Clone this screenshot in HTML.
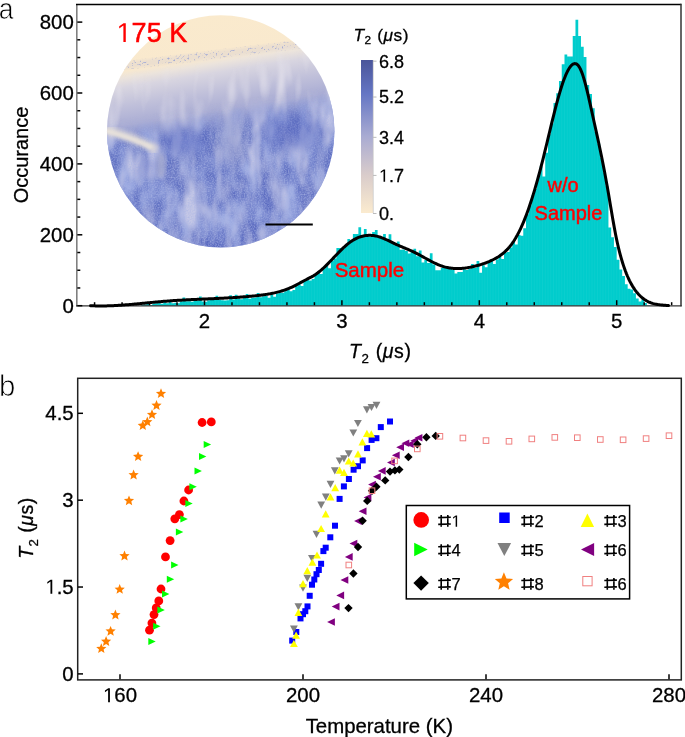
<!DOCTYPE html>
<html><head><meta charset="utf-8"><title>Figure</title>
<style>html,body{margin:0;padding:0;background:#fff;} svg{display:block;will-change:transform;} text{font-family:"Liberation Sans", sans-serif;}</style>
</head><body>
<svg width="685" height="737" viewBox="0 0 685 737" font-family='"Liberation Sans", sans-serif'>
<defs><linearGradient id="cbg" x1="0" y1="1" x2="0" y2="0">
<stop offset="0" stop-color="#FBEBCF"/><stop offset="0.25" stop-color="#D9CCCB"/>
<stop offset="0.5" stop-color="#A9ABD2"/><stop offset="0.78" stop-color="#6576C4"/>
<stop offset="1" stop-color="#4A559A"/></linearGradient><linearGradient id="ig" x1="0.422" y1="0" x2="0.578" y2="1">
<stop offset="0" stop-color="#FAEACD"/><stop offset="0.18" stop-color="#F9E9CE"/>
<stop offset="0.21" stop-color="#ECE4DC"/><stop offset="0.25" stop-color="#D8D5E0"/>
<stop offset="0.33" stop-color="#C0C0DA"/><stop offset="0.41" stop-color="#AAADD4"/>
<stop offset="0.46" stop-color="#8590CE"/><stop offset="0.5" stop-color="#6575C4"/><stop offset="1" stop-color="#5A6AC0"/></linearGradient>
<clipPath id="ic"><ellipse cx="220.7" cy="131.3" rx="113.7" ry="116.1"/></clipPath>
<linearGradient id="texm" x1="0.422" y1="0" x2="0.578" y2="1">
<stop offset="0.38" stop-color="#000"/><stop offset="0.5" stop-color="#fff"/><stop offset="1" stop-color="#fff"/></linearGradient>
<mask id="texmask" maskContentUnits="userSpaceOnUse"><rect x="100" y="10" width="240" height="245" fill="url(#texm)"/></mask>
<linearGradient id="texd" x1="0.422" y1="0" x2="0.578" y2="1">
<stop offset="0.4" stop-color="#000"/><stop offset="0.5" stop-color="#fff"/><stop offset="1" stop-color="#fff"/></linearGradient>
<mask id="texmaskd" maskContentUnits="userSpaceOnUse"><rect x="100" y="10" width="240" height="245" fill="url(#texd)"/></mask>
<linearGradient id="texm2" x1="0.422" y1="0" x2="0.578" y2="1">
<stop offset="0.2" stop-color="#000"/><stop offset="0.27" stop-color="#fff"/><stop offset="0.42" stop-color="#fff"/><stop offset="0.5" stop-color="#000"/></linearGradient>
<mask id="texmask2" maskContentUnits="userSpaceOnUse"><rect x="100" y="10" width="240" height="245" fill="url(#texm2)"/></mask>
<linearGradient id="bandg" x1="0.44" y1="0" x2="0.56" y2="1">
<stop offset="0.163" stop-color="#000"/><stop offset="0.177" stop-color="#fff"/><stop offset="0.19" stop-color="#fff"/><stop offset="0.205" stop-color="#000"/></linearGradient>
<mask id="bandmask" maskContentUnits="userSpaceOnUse"><rect x="100" y="10" width="240" height="245" fill="url(#bandg)"/></mask>
<filter id="fl" x="0" y="0" width="1" height="1" filterUnits="objectBoundingBox">
<feTurbulence type="fractalNoise" baseFrequency="0.06 0.022" numOctaves="3" seed="11"/>
<feColorMatrix type="matrix" values="0 0 0 0 0.55  0 0 0 0 0.57  0 0 0 0 0.79  2.6 0 0 0 -1.12"/>
</filter>
<filter id="fd" x="0" y="0" width="1" height="1" filterUnits="objectBoundingBox">
<feTurbulence type="fractalNoise" baseFrequency="0.05 0.03" numOctaves="3" seed="5"/>
<feColorMatrix type="matrix" values="0 0 0 0 0.34  0 0 0 0 0.41  0 0 0 0 0.76  2.4 0 0 0 -0.85"/>
</filter>
<filter id="fv" x="0" y="0" width="1" height="1" filterUnits="objectBoundingBox">
<feTurbulence type="fractalNoise" baseFrequency="0.08 0.02" numOctaves="2" seed="8"/>
<feColorMatrix type="matrix" values="0 0 0 0 0.82  0 0 0 0 0.80  0 0 0 0 0.86  1.6 0 0 0 -0.75"/>
</filter>
<filter id="fn" x="0" y="0" width="1" height="1" filterUnits="objectBoundingBox">
<feTurbulence type="fractalNoise" baseFrequency="0.7" numOctaves="1" seed="4"/>
<feColorMatrix type="matrix" values="0 0 0 0 0.4  0 0 0 0 0.46  0 0 0 0 0.78  1.6 0 0 0 -0.62"/>
</filter>
<filter id="fs" x="0" y="0" width="1" height="1" filterUnits="objectBoundingBox">
<feTurbulence type="fractalNoise" baseFrequency="0.5" numOctaves="1" seed="2"/>
<feColorMatrix type="matrix" values="0 0 0 0 0.36  0 0 0 0 0.40  0 0 0 0 0.66  6 0 0 0 -3.55"/>
</filter>
<filter id="blur2"><feGaussianBlur stdDeviation="2.2"/></filter><filter id="blur1"><feGaussianBlur stdDeviation="1.0"/></filter><filter id="blur6" x="-50%" y="-50%" width="200%" height="200%"><feGaussianBlur stdDeviation="6"/></filter></defs>
<rect width="685" height="737" fill="#fff"/>
<path d="M141.30 305.70V304.70H144.04V304.38H146.79V303.79H149.54V304.92H152.29V303.73H155.04V303.13H157.78V302.95H160.53V303.67H163.28V302.37H166.03V303.28H168.78V301.98H171.52V303.29H174.27V302.65H177.02V303.15H179.77V301.49H182.52V297.40H185.26V301.29H188.01V301.25H190.76V301.76H193.51V300.72H196.26V300.48H199.00V296.61H201.75V301.53H204.50V301.77H207.25V300.27H210.00V299.92H212.74V299.80H215.49V295.87H218.24V299.74H220.99V300.16H223.74V300.59H226.48V300.27H229.23V295.15H231.98V299.42H234.73V294.80H237.48V298.44H240.22V299.17H242.97V297.97H245.72V293.97H248.47V298.75H251.22V297.79H253.96V297.53H256.71V292.90H259.46V297.21H262.21V296.35H264.96V295.96H267.70V297.76H270.45V294.50H273.20V296.67H275.95V293.59H278.70V292.76H281.44V292.78H284.19V291.14H286.94V289.76H289.69V291.26H292.44V289.97H295.18V286.22H297.93V284.45H300.68V286.00H303.43V281.12H306.18V279.47H308.92V280.46H311.67V279.00H314.42V274.64H317.17V271.40H319.92V274.10H322.66V268.60H325.41V264.40H328.16V268.20H330.91V260.73H333.66V258.44H336.40V248.10H339.15V248.10H341.90V248.75H344.65V246.10H347.40V238.90H350.14V241.29H352.89V234.00H355.64V234.00H358.39V227.20H361.14V235.43H363.88V228.90H366.63V235.86H369.38V237.05H372.13V232.10H374.88V230.00H377.62V236.75H380.37V238.42H383.12V234.00H385.87V240.48H388.62V234.30H391.36V242.43H394.11V245.30H396.86V241.60H399.61V249.70H402.36V249.55H405.10V251.08H407.85V253.50H410.60V250.80H413.35V248.80H416.10V256.27H418.84V250.60H421.59V262.40H424.34V259.98H427.09V262.93H429.84V253.20H432.58V264.41H435.33V270.30H438.08V270.30H440.83V267.96H443.58V267.13H446.32V268.02H449.07V268.48H451.82V269.79H454.57V273.40H457.32V272.00H460.06V272.00H462.81V269.24H465.56V269.96H468.31V269.09H471.06V264.00H473.80V267.98H476.55V261.00H479.30V272.70H482.05V265.21H484.80V267.30H487.54V262.95H490.29V259.75H493.04V264.00H495.79V259.41H498.54V256.66H501.28V259.10H504.03V252.74H506.78V252.10H509.53V247.41H512.28V241.66H515.02V244.50H517.77V234.90H520.52V235.80H523.27V228.20H526.02V214.17H528.76V205.50H531.51V195.14H534.26V188.68H537.01V176.46H539.76V166.22H542.50V176.50H545.25V152.70H548.00V134.26H550.75V123.41H553.50V102.90H556.24V93.20H558.99V80.90H561.74V64.30H564.49V54.50H567.24V56.50H569.98V56.50H572.73V36.10H575.48V19.80H578.23V36.10H580.98V46.70H583.72V57.00H586.47V85.00H589.22V94.00H591.97V108.30H594.72V131.94H597.46V143.75H600.21V157.96H602.96V172.58H605.71V186.13H608.46V227.60H611.20V237.30H613.95V247.00H616.70V259.70H619.45V269.40H622.20V276.10H624.94V284.30H627.69V288.80H630.44V289.60H633.19V293.30H635.94V298.50H638.68V301.50H641.43V299.31H644.18V303.00H646.93V305.20H649.68V305.70Z" fill="#00CCCC"/><path d="M144.04 304.70V305.70M146.79 304.38V305.70M149.54 303.79V305.70M152.29 304.92V305.70M155.04 303.73V305.70M157.78 303.13V305.70M160.53 302.95V305.70M163.28 303.67V305.70M166.03 302.37V305.70M168.78 303.28V305.70M171.52 301.98V305.70M174.27 303.29V305.70M177.02 302.65V305.70M179.77 303.15V305.70M182.52 301.49V305.70M185.26 297.40V305.70M188.01 301.29V305.70M190.76 301.25V305.70M193.51 301.76V305.70M196.26 300.72V305.70M199.00 300.48V305.70M201.75 296.61V305.70M204.50 301.53V305.70M207.25 301.77V305.70M210.00 300.27V305.70M212.74 299.92V305.70M215.49 299.80V305.70M218.24 295.87V305.70M220.99 299.74V305.70M223.74 300.16V305.70M226.48 300.59V305.70M229.23 300.27V305.70M231.98 295.15V305.70M234.73 299.42V305.70M237.48 294.80V305.70M240.22 298.44V305.70M242.97 299.17V305.70M245.72 297.97V305.70M248.47 293.97V305.70M251.22 298.75V305.70M253.96 297.79V305.70M256.71 297.53V305.70M259.46 292.90V305.70M262.21 297.21V305.70M264.96 296.35V305.70M267.70 295.96V305.70M270.45 297.76V305.70M273.20 294.50V305.70M275.95 296.67V305.70M278.70 293.59V305.70M281.44 292.76V305.70M284.19 292.78V305.70M286.94 291.14V305.70M289.69 289.76V305.70M292.44 291.26V305.70M295.18 289.97V305.70M297.93 286.22V305.70M300.68 284.45V305.70M303.43 286.00V305.70M306.18 281.12V305.70M308.92 279.47V305.70M311.67 280.46V305.70M314.42 279.00V305.70M317.17 274.64V305.70M319.92 271.40V305.70M322.66 274.10V305.70M325.41 268.60V305.70M328.16 264.40V305.70M330.91 268.20V305.70M333.66 260.73V305.70M336.40 258.44V305.70M339.15 248.10V305.70M341.90 248.10V305.70M344.65 248.75V305.70M347.40 246.10V305.70M350.14 238.90V305.70M352.89 241.29V305.70M355.64 234.00V305.70M358.39 234.00V305.70M361.14 227.20V305.70M363.88 235.43V305.70M366.63 228.90V305.70M369.38 235.86V305.70M372.13 237.05V305.70M374.88 232.10V305.70M377.62 230.00V305.70M380.37 236.75V305.70M383.12 238.42V305.70M385.87 234.00V305.70M388.62 240.48V305.70M391.36 234.30V305.70M394.11 242.43V305.70M396.86 245.30V305.70M399.61 241.60V305.70M402.36 249.70V305.70M405.10 249.55V305.70M407.85 251.08V305.70M410.60 253.50V305.70M413.35 250.80V305.70M416.10 248.80V305.70M418.84 256.27V305.70M421.59 250.60V305.70M424.34 262.40V305.70M427.09 259.98V305.70M429.84 262.93V305.70M432.58 253.20V305.70M435.33 264.41V305.70M438.08 270.30V305.70M440.83 270.30V305.70M443.58 267.96V305.70M446.32 267.13V305.70M449.07 268.02V305.70M451.82 268.48V305.70M454.57 269.79V305.70M457.32 273.40V305.70M460.06 272.00V305.70M462.81 272.00V305.70M465.56 269.24V305.70M468.31 269.96V305.70M471.06 269.09V305.70M473.80 264.00V305.70M476.55 267.98V305.70M479.30 261.00V305.70M482.05 272.70V305.70M484.80 265.21V305.70M487.54 267.30V305.70M490.29 262.95V305.70M493.04 259.75V305.70M495.79 264.00V305.70M498.54 259.41V305.70M501.28 256.66V305.70M504.03 259.10V305.70M506.78 252.74V305.70M509.53 252.10V305.70M512.28 247.41V305.70M515.02 241.66V305.70M517.77 244.50V305.70M520.52 234.90V305.70M523.27 235.80V305.70M526.02 228.20V305.70M528.76 214.17V305.70M531.51 205.50V305.70M534.26 195.14V305.70M537.01 188.68V305.70M539.76 176.46V305.70M542.50 166.22V305.70M545.25 176.50V305.70M548.00 152.70V305.70M550.75 134.26V305.70M553.50 123.41V305.70M556.24 102.90V305.70M558.99 93.20V305.70M561.74 80.90V305.70M564.49 64.30V305.70M567.24 54.50V305.70M569.98 56.50V305.70M572.73 56.50V305.70M575.48 36.10V305.70M578.23 19.80V305.70M580.98 36.10V305.70M583.72 46.70V305.70M586.47 57.00V305.70M589.22 85.00V305.70M591.97 94.00V305.70M594.72 108.30V305.70M597.46 131.94V305.70M600.21 143.75V305.70M602.96 157.96V305.70M605.71 172.58V305.70M608.46 186.13V305.70M611.20 227.60V305.70M613.95 237.30V305.70M616.70 247.00V305.70M619.45 259.70V305.70M622.20 269.40V305.70M624.94 276.10V305.70M627.69 284.30V305.70M630.44 288.80V305.70M633.19 289.60V305.70M635.94 293.30V305.70M638.68 298.50V305.70M641.43 301.50V305.70M644.18 299.31V305.70M646.93 303.00V305.70M649.68 305.20V305.70" stroke="#fff" stroke-opacity="0.06" stroke-width="0.8"/>
<line x1="76.8" y1="4.5" x2="76.8" y2="306.3" stroke="#808080" stroke-width="1.6"/><line x1="76" y1="4.5" x2="681.3" y2="4.5" stroke="#000" stroke-width="1.5"/><line x1="681" y1="3.8" x2="681" y2="306.3" stroke="#333" stroke-width="1.5"/><line x1="76" y1="305.9" x2="681.7" y2="305.9" stroke="#333" stroke-width="1.4"/><line x1="77.3" y1="305.70" x2="82.3" y2="305.70" stroke="#000" stroke-width="1.5"/><line x1="77.3" y1="287.97" x2="80.3" y2="287.97" stroke="#000" stroke-width="1.5"/><line x1="77.3" y1="270.25" x2="80.3" y2="270.25" stroke="#000" stroke-width="1.5"/><line x1="77.3" y1="252.52" x2="80.3" y2="252.52" stroke="#000" stroke-width="1.5"/><line x1="77.3" y1="234.80" x2="82.3" y2="234.80" stroke="#000" stroke-width="1.5"/><line x1="77.3" y1="217.07" x2="80.3" y2="217.07" stroke="#000" stroke-width="1.5"/><line x1="77.3" y1="199.35" x2="80.3" y2="199.35" stroke="#000" stroke-width="1.5"/><line x1="77.3" y1="181.62" x2="80.3" y2="181.62" stroke="#000" stroke-width="1.5"/><line x1="77.3" y1="163.90" x2="82.3" y2="163.90" stroke="#000" stroke-width="1.5"/><line x1="77.3" y1="146.17" x2="80.3" y2="146.17" stroke="#000" stroke-width="1.5"/><line x1="77.3" y1="128.45" x2="80.3" y2="128.45" stroke="#000" stroke-width="1.5"/><line x1="77.3" y1="110.72" x2="80.3" y2="110.72" stroke="#000" stroke-width="1.5"/><line x1="77.3" y1="93.00" x2="82.3" y2="93.00" stroke="#000" stroke-width="1.5"/><line x1="77.3" y1="75.28" x2="80.3" y2="75.28" stroke="#000" stroke-width="1.5"/><line x1="77.3" y1="57.55" x2="80.3" y2="57.55" stroke="#000" stroke-width="1.5"/><line x1="77.3" y1="39.82" x2="80.3" y2="39.82" stroke="#000" stroke-width="1.5"/><line x1="77.3" y1="22.10" x2="82.3" y2="22.10" stroke="#000" stroke-width="1.5"/><line x1="94.58" y1="305.2" x2="94.58" y2="302.2" stroke="#000" stroke-width="1.5"/><line x1="122.06" y1="305.2" x2="122.06" y2="302.2" stroke="#000" stroke-width="1.5"/><line x1="149.54" y1="305.2" x2="149.54" y2="302.2" stroke="#000" stroke-width="1.5"/><line x1="177.02" y1="305.2" x2="177.02" y2="302.2" stroke="#000" stroke-width="1.5"/><line x1="204.50" y1="305.2" x2="204.50" y2="300.2" stroke="#000" stroke-width="1.5"/><line x1="231.98" y1="305.2" x2="231.98" y2="302.2" stroke="#000" stroke-width="1.5"/><line x1="259.46" y1="305.2" x2="259.46" y2="302.2" stroke="#000" stroke-width="1.5"/><line x1="286.94" y1="305.2" x2="286.94" y2="302.2" stroke="#000" stroke-width="1.5"/><line x1="314.42" y1="305.2" x2="314.42" y2="302.2" stroke="#000" stroke-width="1.5"/><line x1="341.90" y1="305.2" x2="341.90" y2="300.2" stroke="#000" stroke-width="1.5"/><line x1="369.38" y1="305.2" x2="369.38" y2="302.2" stroke="#000" stroke-width="1.5"/><line x1="396.86" y1="305.2" x2="396.86" y2="302.2" stroke="#000" stroke-width="1.5"/><line x1="424.34" y1="305.2" x2="424.34" y2="302.2" stroke="#000" stroke-width="1.5"/><line x1="451.82" y1="305.2" x2="451.82" y2="302.2" stroke="#000" stroke-width="1.5"/><line x1="479.30" y1="305.2" x2="479.30" y2="300.2" stroke="#000" stroke-width="1.5"/><line x1="506.78" y1="305.2" x2="506.78" y2="302.2" stroke="#000" stroke-width="1.5"/><line x1="534.26" y1="305.2" x2="534.26" y2="302.2" stroke="#000" stroke-width="1.5"/><line x1="561.74" y1="305.2" x2="561.74" y2="302.2" stroke="#000" stroke-width="1.5"/><line x1="589.22" y1="305.2" x2="589.22" y2="302.2" stroke="#000" stroke-width="1.5"/><line x1="616.70" y1="305.2" x2="616.70" y2="300.2" stroke="#000" stroke-width="1.5"/><line x1="644.18" y1="305.2" x2="644.18" y2="302.2" stroke="#000" stroke-width="1.5"/><line x1="671.66" y1="305.2" x2="671.66" y2="302.2" stroke="#000" stroke-width="1.5"/>
<polyline points="90.5,305.71 91.5,305.76 92.5,305.80 93.5,305.84 94.5,305.87 95.5,305.90 96.5,305.92 97.5,305.94 98.5,305.95 99.5,305.96 100.5,305.96 101.5,305.96 102.5,305.96 103.5,305.95 104.5,305.93 105.5,305.91 106.5,305.89 107.5,305.87 108.5,305.84 109.5,305.81 110.5,305.77 111.5,305.73 112.5,305.69 113.5,305.64 114.5,305.59 115.5,305.54 116.5,305.49 117.5,305.43 118.5,305.37 119.5,305.30 120.5,305.24 121.5,305.17 122.5,305.10 123.5,305.03 124.5,304.95 125.5,304.87 126.5,304.80 127.5,304.71 128.5,304.63 129.5,304.55 130.5,304.46 131.5,304.37 132.5,304.29 133.5,304.20 134.5,304.10 135.5,304.01 136.5,303.92 137.5,303.82 138.5,303.73 139.5,303.63 140.5,303.54 141.5,303.44 142.5,303.34 143.5,303.24 144.5,303.15 145.5,303.05 146.5,302.95 147.5,302.85 148.5,302.75 149.5,302.66 150.5,302.56 151.5,302.46 152.5,302.37 153.5,302.27 154.5,302.17 155.5,302.08 156.5,301.99 157.5,301.90 158.5,301.80 159.5,301.71 160.5,301.63 161.5,301.54 162.5,301.45 163.5,301.37 164.5,301.29 165.5,301.21 166.5,301.13 167.5,301.05 168.5,300.98 169.5,300.90 170.5,300.83 171.5,300.76 172.5,300.69 173.5,300.62 174.5,300.56 175.5,300.49 176.5,300.43 177.5,300.37 178.5,300.31 179.5,300.25 180.5,300.19 181.5,300.14 182.5,300.08 183.5,300.02 184.5,299.97 185.5,299.92 186.5,299.87 187.5,299.81 188.5,299.76 189.5,299.72 190.5,299.67 191.5,299.62 192.5,299.57 193.5,299.52 194.5,299.48 195.5,299.43 196.5,299.39 197.5,299.34 198.5,299.30 199.5,299.25 200.5,299.21 201.5,299.16 202.5,299.12 203.5,299.07 204.5,299.03 205.5,298.99 206.5,298.94 207.5,298.90 208.5,298.85 209.5,298.81 210.5,298.77 211.5,298.72 212.5,298.68 213.5,298.63 214.5,298.58 215.5,298.54 216.5,298.49 217.5,298.44 218.5,298.40 219.5,298.35 220.5,298.30 221.5,298.25 222.5,298.20 223.5,298.15 224.5,298.09 225.5,298.04 226.5,297.99 227.5,297.93 228.5,297.87 229.5,297.82 230.5,297.76 231.5,297.70 232.5,297.64 233.5,297.57 234.5,297.51 235.5,297.44 236.5,297.38 237.5,297.31 238.5,297.24 239.5,297.17 240.5,297.10 241.5,297.02 242.5,296.95 243.5,296.87 244.5,296.79 245.5,296.71 246.5,296.62 247.5,296.54 248.5,296.45 249.5,296.36 250.5,296.27 251.5,296.17 252.5,296.08 253.5,295.98 254.5,295.88 255.5,295.78 256.5,295.67 257.5,295.56 258.5,295.45 259.5,295.34 260.5,295.22 261.5,295.09 262.5,294.96 263.5,294.83 264.5,294.69 265.5,294.54 266.5,294.39 267.5,294.23 268.5,294.06 269.5,293.89 270.5,293.71 271.5,293.51 272.5,293.31 273.5,293.10 274.5,292.88 275.5,292.65 276.5,292.41 277.5,292.16 278.5,291.90 279.5,291.62 280.5,291.34 281.5,291.04 282.5,290.73 283.5,290.40 284.5,290.06 285.5,289.71 286.5,289.34 287.5,288.96 288.5,288.56 289.5,288.14 290.5,287.71 291.5,287.26 292.5,286.80 293.5,286.32 294.5,285.82 295.5,285.32 296.5,284.80 297.5,284.27 298.5,283.74 299.5,283.20 300.5,282.66 301.5,282.12 302.5,281.58 303.5,281.04 304.5,280.51 305.5,279.98 306.5,279.46 307.5,278.95 308.5,278.44 309.5,277.93 310.5,277.41 311.5,276.88 312.5,276.32 313.5,275.74 314.5,275.13 315.5,274.48 316.5,273.79 317.5,273.06 318.5,272.29 319.5,271.49 320.5,270.66 321.5,269.79 322.5,268.90 323.5,267.98 324.5,267.04 325.5,266.08 326.5,265.10 327.5,264.10 328.5,263.09 329.5,262.07 330.5,261.03 331.5,259.99 332.5,258.94 333.5,257.88 334.5,256.83 335.5,255.78 336.5,254.73 337.5,253.68 338.5,252.65 339.5,251.63 340.5,250.62 341.5,249.63 342.5,248.65 343.5,247.70 344.5,246.78 345.5,245.88 346.5,245.00 347.5,244.16 348.5,243.36 349.5,242.59 350.5,241.86 351.5,241.18 352.5,240.53 353.5,239.92 354.5,239.35 355.5,238.82 356.5,238.33 357.5,237.88 358.5,237.47 359.5,237.09 360.5,236.75 361.5,236.45 362.5,236.19 363.5,235.96 364.5,235.76 365.5,235.61 366.5,235.49 367.5,235.40 368.5,235.35 369.5,235.33 370.5,235.34 371.5,235.39 372.5,235.48 373.5,235.59 374.5,235.74 375.5,235.92 376.5,236.13 377.5,236.37 378.5,236.65 379.5,236.95 380.5,237.29 381.5,237.65 382.5,238.03 383.5,238.43 384.5,238.86 385.5,239.30 386.5,239.76 387.5,240.22 388.5,240.70 389.5,241.18 390.5,241.67 391.5,242.16 392.5,242.65 393.5,243.14 394.5,243.62 395.5,244.09 396.5,244.55 397.5,245.01 398.5,245.45 399.5,245.88 400.5,246.31 401.5,246.73 402.5,247.14 403.5,247.56 404.5,247.97 405.5,248.38 406.5,248.80 407.5,249.21 408.5,249.64 409.5,250.06 410.5,250.50 411.5,250.95 412.5,251.40 413.5,251.87 414.5,252.36 415.5,252.85 416.5,253.36 417.5,253.88 418.5,254.41 419.5,254.94 420.5,255.49 421.5,256.03 422.5,256.59 423.5,257.14 424.5,257.69 425.5,258.25 426.5,258.80 427.5,259.35 428.5,259.90 429.5,260.43 430.5,260.97 431.5,261.49 432.5,262.00 433.5,262.50 434.5,262.99 435.5,263.47 436.5,263.93 437.5,264.37 438.5,264.79 439.5,265.20 440.5,265.58 441.5,265.94 442.5,266.28 443.5,266.59 444.5,266.88 445.5,267.14 446.5,267.38 447.5,267.59 448.5,267.78 449.5,267.95 450.5,268.10 451.5,268.23 452.5,268.33 453.5,268.42 454.5,268.48 455.5,268.53 456.5,268.56 457.5,268.56 458.5,268.55 459.5,268.52 460.5,268.48 461.5,268.42 462.5,268.34 463.5,268.24 464.5,268.13 465.5,268.01 466.5,267.87 467.5,267.71 468.5,267.55 469.5,267.37 470.5,267.17 471.5,266.97 472.5,266.75 473.5,266.52 474.5,266.28 475.5,266.03 476.5,265.78 477.5,265.51 478.5,265.23 479.5,264.94 480.5,264.65 481.5,264.34 482.5,264.02 483.5,263.69 484.5,263.34 485.5,262.98 486.5,262.61 487.5,262.22 488.5,261.81 489.5,261.39 490.5,260.94 491.5,260.48 492.5,260.00 493.5,259.50 494.5,258.98 495.5,258.44 496.5,257.87 497.5,257.28 498.5,256.66 499.5,256.00 500.5,255.30 501.5,254.57 502.5,253.79 503.5,252.97 504.5,252.10 505.5,251.17 506.5,250.19 507.5,249.15 508.5,248.05 509.5,246.88 510.5,245.65 511.5,244.34 512.5,242.96 513.5,241.50 514.5,239.95 515.5,238.33 516.5,236.61 517.5,234.81 518.5,232.91 519.5,230.92 520.5,228.84 521.5,226.66 522.5,224.40 523.5,222.04 524.5,219.60 525.5,217.06 526.5,214.44 527.5,211.73 528.5,208.93 529.5,206.04 530.5,203.07 531.5,200.01 532.5,196.86 533.5,193.63 534.5,190.32 535.5,186.93 536.5,183.45 537.5,179.90 538.5,176.27 539.5,172.57 540.5,168.79 541.5,164.93 542.5,161.01 543.5,157.02 544.5,152.96 545.5,148.86 546.5,144.73 547.5,140.57 548.5,136.40 549.5,132.23 550.5,128.08 551.5,123.95 552.5,119.86 553.5,115.82 554.5,111.84 555.5,107.93 556.5,104.12 557.5,100.40 558.5,96.80 559.5,93.31 560.5,89.97 561.5,86.77 562.5,83.73 563.5,80.87 564.5,78.19 565.5,75.69 566.5,73.40 567.5,71.33 568.5,69.47 569.5,67.84 570.5,66.46 571.5,65.33 572.5,64.47 573.5,63.89 574.5,63.61 575.5,63.64 576.5,64.00 577.5,64.73 578.5,65.84 579.5,67.35 580.5,69.29 581.5,71.63 582.5,74.33 583.5,77.38 584.5,80.75 585.5,84.40 586.5,88.30 587.5,92.41 588.5,96.70 589.5,101.11 590.5,105.61 591.5,110.16 592.5,114.71 593.5,119.25 594.5,123.77 595.5,128.29 596.5,132.83 597.5,137.40 598.5,142.02 599.5,146.70 600.5,151.46 601.5,156.31 602.5,161.27 603.5,166.36 604.5,171.57 605.5,176.92 606.5,182.41 607.5,188.04 608.5,193.83 609.5,199.72 610.5,205.65 611.5,211.57 612.5,217.41 613.5,223.12 614.5,228.64 615.5,233.91 616.5,238.88 617.5,243.52 618.5,247.85 619.5,251.88 620.5,255.66 621.5,259.19 622.5,262.51 623.5,265.62 624.5,268.55 625.5,271.29 626.5,273.85 627.5,276.25 628.5,278.50 629.5,280.59 630.5,282.55 631.5,284.37 632.5,286.08 633.5,287.66 634.5,289.15 635.5,290.54 636.5,291.84 637.5,293.06 638.5,294.19 639.5,295.25 640.5,296.24 641.5,297.16 642.5,298.00 643.5,298.78 644.5,299.50 645.5,300.16 646.5,300.76 647.5,301.31 648.5,301.81 649.5,302.26 650.5,302.66 651.5,303.02 652.5,303.34 653.5,303.63 654.5,303.88 655.5,304.11 656.5,304.30 657.5,304.47 658.5,304.62 659.5,304.75 660.5,304.87 661.5,304.97 662.5,305.06 663.5,305.14 664.5,305.22 665.5,305.30 666.5,305.38 667.5,305.47 668.5,305.56" fill="none" stroke="#000" stroke-width="3" stroke-linejoin="round" stroke-linecap="round"/>
<ellipse cx="220.7" cy="131.3" rx="113.7" ry="116.1" fill="url(#ig)"/><g clip-path="url(#ic)"><rect x="100" y="10" width="240" height="245" filter="url(#fd)" mask="url(#texmaskd)"/><rect x="100" y="10" width="240" height="245" filter="url(#fl)" mask="url(#texmask)"/><rect x="100" y="10" width="240" height="245" filter="url(#fv)" mask="url(#texmask2)"/><rect x="100" y="10" width="240" height="245" filter="url(#fn)" mask="url(#texmask)"/><rect x="100" y="10" width="240" height="245" fill="#B9B8D6" opacity="0.2" mask="url(#bandmask)"/><rect x="100" y="10" width="240" height="245" filter="url(#fs)" mask="url(#bandmask)"/><ellipse cx="230" cy="140" rx="13" ry="26" fill="#A6AAD2" opacity="0.55" filter="url(#blur6)"/><ellipse cx="183" cy="142" rx="26" ry="13" fill="#5565BF" opacity="0.45" filter="url(#blur6)"/><ellipse cx="292" cy="132" rx="32" ry="18" fill="#5868C0" opacity="0.4" filter="url(#blur6)"/><ellipse cx="161" cy="165" rx="5" ry="13" fill="#A9ADD2" opacity="0.8" filter="url(#blur2)"/><ellipse cx="146" cy="166" rx="10" ry="9" fill="#5262BD" opacity="0.35" filter="url(#blur6)"/><path d="M103 129.5 Q132 136 157 150" stroke="#E2DCD8" stroke-width="9" fill="none" filter="url(#blur2)" opacity="0.8"/><path d="M103 130 Q130 137 152 147.5" stroke="#E8E2DA" stroke-width="4.5" fill="none" filter="url(#blur1)" opacity="0.85"/></g>
<line x1="265.5" y1="224.6" x2="312.8" y2="224.6" stroke="#000" stroke-width="2"/>
<rect x="361" y="60" width="12" height="153" fill="url(#cbg)"/><line x1="373.3" y1="60" x2="373.3" y2="213.5" stroke="#ccc" stroke-width="0.8"/><line x1="373" y1="213.50" x2="376.5" y2="213.50" stroke="#bbb" stroke-width="1"/><g stroke="#000" stroke-width="0.28"><text x="379.00" y="219.90" font-size="18" fill="#000">0.</text></g><line x1="373" y1="175.42" x2="376.5" y2="175.42" stroke="#bbb" stroke-width="1"/><g stroke="#000" stroke-width="0.28"><text x="379.00" y="181.82" font-size="18" fill="#000"> .7</text><path transform="translate(379.00,181.82) scale(0.00879,-0.00879)" d="M515 0L515 1237L197 1010L197 1180L530 1409L696 1409L696 0Z" fill="#000"/></g><line x1="373" y1="137.34" x2="376.5" y2="137.34" stroke="#bbb" stroke-width="1"/><g stroke="#000" stroke-width="0.28"><text x="379.00" y="143.74" font-size="18" fill="#000">3.4</text></g><line x1="373" y1="97.02" x2="376.5" y2="97.02" stroke="#bbb" stroke-width="1"/><g stroke="#000" stroke-width="0.28"><text x="379.00" y="103.42" font-size="18" fill="#000">5.2</text></g><line x1="373" y1="61.18" x2="376.5" y2="61.18" stroke="#bbb" stroke-width="1"/><g stroke="#000" stroke-width="0.28"><text x="379.00" y="67.58" font-size="18" fill="#000">6.8</text></g>
<g stroke="#000" stroke-width="0.3"><text transform="translate(-1.3,18.5) scale(0.9,1)" font-size="29.5" fill="#000" stroke="#fff" stroke-width="0.75">a</text><text x="73.8" y="313.00" font-size="20.4" text-anchor="end">0</text><text x="73.8" y="242.10" font-size="20.4" text-anchor="end">200</text><text x="73.8" y="171.20" font-size="20.4" text-anchor="end">400</text><text x="73.8" y="100.30" font-size="20.4" text-anchor="end">600</text><text x="73.8" y="29.40" font-size="20.4" text-anchor="end">800</text><text x="204.50" y="328.2" font-size="20.4" text-anchor="middle">2</text><text x="341.90" y="328.2" font-size="20.4" text-anchor="middle">3</text><text x="479.30" y="328.2" font-size="20.4" text-anchor="middle">4</text><text x="616.70" y="328.2" font-size="20.4" text-anchor="middle">5</text><text transform="translate(28.3,155) rotate(-90)" font-size="20" text-anchor="middle">Occurance</text><text x="380" y="358.2" font-size="19.5" text-anchor="middle" textLength="62" lengthAdjust="spacing"><tspan font-style="italic">T</tspan><tspan font-size="13.3" dy="4.3">2</tspan><tspan dy="-4.3"> (</tspan><tspan font-style="italic">μ</tspan><tspan>s)</tspan></text><text x="381" y="40.6" font-size="17.3" text-anchor="middle" textLength="55.2" lengthAdjust="spacing"><tspan font-style="italic">T</tspan><tspan font-size="11.8" dy="3.8">2</tspan><tspan dy="-3.8"> (</tspan><tspan font-style="italic">μ</tspan><tspan>s)</tspan></text><g stroke="#FF0000" stroke-width="0.5"><text x="116.60" y="41.90" font-size="27" fill="#FF0000"> 75 K</text><path transform="translate(116.60,41.90) scale(0.01318,-0.01318)" d="M515 0L515 1237L197 1010L197 1180L530 1409L696 1409L696 0Z" fill="#FF0000"/></g><text x="563" y="191.6" font-size="20" fill="#FF0000" stroke="#FF0000" stroke-width="0.45" text-anchor="middle">w/o</text><text x="568.5" y="219.9" font-size="20" fill="#FF0000" stroke="#FF0000" stroke-width="0.45" text-anchor="middle">Sample</text><text x="369.4" y="277.4" font-size="20.5" fill="#FF0000" stroke="#FF0000" stroke-width="0.45" text-anchor="middle">Sample</text></g>
<rect x="77.7" y="378.3" width="603.6" height="301.6" fill="none" stroke="#222" stroke-width="1.5"/><line x1="78" y1="673.90" x2="83" y2="673.90" stroke="#000" stroke-width="1.5"/><line x1="78" y1="587.03" x2="83" y2="587.03" stroke="#000" stroke-width="1.5"/><line x1="78" y1="500.17" x2="83" y2="500.17" stroke="#000" stroke-width="1.5"/><line x1="78" y1="413.31" x2="83" y2="413.31" stroke="#000" stroke-width="1.5"/><line x1="120.00" y1="679.3" x2="120.00" y2="674.2" stroke="#000" stroke-width="1.5"/><line x1="303.00" y1="679.3" x2="303.00" y2="674.2" stroke="#000" stroke-width="1.5"/><line x1="486.00" y1="679.3" x2="486.00" y2="674.2" stroke="#000" stroke-width="1.5"/><line x1="669.00" y1="679.3" x2="669.00" y2="674.2" stroke="#000" stroke-width="1.5"/>
<polygon points="161.0,388.3 162.4,391.7 166.1,392.0 163.3,394.5 164.2,398.1 161.0,396.1 157.8,398.1 158.7,394.5 155.9,392.0 159.6,391.7" fill="#FF8000"/><polygon points="156.5,400.1 157.9,403.5 161.6,403.8 158.8,406.3 159.7,409.9 156.5,407.9 153.3,409.9 154.2,406.3 151.4,403.8 155.1,403.5" fill="#FF8000"/><polygon points="152.0,409.3 153.4,412.7 157.1,413.0 154.3,415.5 155.2,419.1 152.0,417.1 148.8,419.1 149.7,415.5 146.9,413.0 150.6,412.7" fill="#FF8000"/><polygon points="147.3,416.5 148.7,419.9 152.4,420.2 149.6,422.7 150.5,426.3 147.3,424.3 144.1,426.3 145.0,422.7 142.2,420.2 145.9,419.9" fill="#FF8000"/><polygon points="142.8,420.2 144.2,423.6 147.9,423.9 145.1,426.4 146.0,430.0 142.8,428.0 139.6,430.0 140.5,426.4 137.7,423.9 141.4,423.6" fill="#FF8000"/><polygon points="138.1,451.2 139.5,454.6 143.2,454.9 140.4,457.4 141.3,461.0 138.1,459.0 134.9,461.0 135.8,457.4 133.0,454.9 136.7,454.6" fill="#FF8000"/><polygon points="133.6,469.6 135.0,473.0 138.7,473.3 135.9,475.8 136.8,479.4 133.6,477.4 130.4,479.4 131.3,475.8 128.5,473.3 132.2,473.0" fill="#FF8000"/><polygon points="129.0,495.4 130.4,498.8 134.1,499.1 131.3,501.6 132.2,505.2 129.0,503.2 125.8,505.2 126.7,501.6 123.9,499.1 127.6,498.8" fill="#FF8000"/><polygon points="124.5,550.6 125.9,554.0 129.6,554.3 126.8,556.8 127.7,560.4 124.5,558.4 121.3,560.4 122.2,556.8 119.4,554.3 123.1,554.0" fill="#FF8000"/><polygon points="119.7,584.0 121.1,587.4 124.8,587.7 122.0,590.2 122.9,593.8 119.7,591.8 116.5,593.8 117.4,590.2 114.6,587.7 118.3,587.4" fill="#FF8000"/><polygon points="115.4,609.6 116.8,613.0 120.5,613.3 117.7,615.8 118.6,619.4 115.4,617.4 112.2,619.4 113.1,615.8 110.3,613.3 114.0,613.0" fill="#FF8000"/><polygon points="110.6,625.9 112.0,629.3 115.7,629.6 112.9,632.1 113.8,635.7 110.6,633.7 107.4,635.7 108.3,632.1 105.5,629.6 109.2,629.3" fill="#FF8000"/><polygon points="106.1,636.1 107.5,639.5 111.2,639.8 108.4,642.3 109.3,645.9 106.1,643.9 102.9,645.9 103.8,642.3 101.0,639.8 104.7,639.5" fill="#FF8000"/><polygon points="101.3,643.3 102.7,646.7 106.4,647.0 103.6,649.5 104.5,653.1 101.3,651.1 98.1,653.1 99.0,649.5 96.2,647.0 99.9,646.7" fill="#FF8000"/><circle cx="202.1" cy="422.5" r="4.4" fill="#FF0000"/><circle cx="211.3" cy="421.9" r="4.4" fill="#FF0000"/><circle cx="188.6" cy="490.0" r="4.4" fill="#FF0000"/><circle cx="183.9" cy="501.0" r="4.4" fill="#FF0000"/><circle cx="179.4" cy="514.6" r="4.4" fill="#FF0000"/><circle cx="174.8" cy="518.8" r="4.4" fill="#FF0000"/><circle cx="170.1" cy="540.6" r="4.4" fill="#FF0000"/><circle cx="165.5" cy="556.9" r="4.4" fill="#FF0000"/><circle cx="161.0" cy="589.0" r="4.4" fill="#FF0000"/><circle cx="158.8" cy="600.9" r="4.4" fill="#FF0000"/><circle cx="156.2" cy="607.9" r="4.4" fill="#FF0000"/><circle cx="154.0" cy="614.6" r="4.4" fill="#FF0000"/><circle cx="151.9" cy="623.1" r="4.4" fill="#FF0000"/><circle cx="149.5" cy="630.2" r="4.4" fill="#FF0000"/><polygon points="211.1,444.4 203.7,440.9 203.7,447.9" fill="#00FF00"/><polygon points="206.4,456.6 199.0,453.1 199.0,460.1" fill="#00FF00"/><polygon points="201.9,470.9 194.5,467.4 194.5,474.4" fill="#00FF00"/><polygon points="196.8,486.7 189.4,483.2 189.4,490.2" fill="#00FF00"/><polygon points="192.7,503.5 185.3,500.0 185.3,507.0" fill="#00FF00"/><polygon points="187.8,519.1 180.4,515.6 180.4,522.6" fill="#00FF00"/><polygon points="183.3,532.1 175.9,528.6 175.9,535.6" fill="#00FF00"/><polygon points="178.5,565.1 171.1,561.6 171.1,568.6" fill="#00FF00"/><polygon points="174.2,579.2 166.8,575.7 166.8,582.7" fill="#00FF00"/><polygon points="169.4,594.0 162.0,590.5 162.0,597.5" fill="#00FF00"/><polygon points="164.8,610.0 157.4,606.5 157.4,613.5" fill="#00FF00"/><polygon points="160.5,626.3 153.1,622.8 153.1,629.8" fill="#00FF00"/><polygon points="155.7,641.5 148.3,638.0 148.3,645.0" fill="#00FF00"/><rect x="387.0" y="418.5" width="6" height="6" fill="#0000FF"/><rect x="377.8" y="424.1" width="6" height="6" fill="#0000FF"/><rect x="373.4" y="435.2" width="6" height="6" fill="#0000FF"/><rect x="368.6" y="436.9" width="6" height="6" fill="#0000FF"/><rect x="364.1" y="445.1" width="6" height="6" fill="#0000FF"/><rect x="359.7" y="457.4" width="6" height="6" fill="#0000FF"/><rect x="355.0" y="463.2" width="6" height="6" fill="#0000FF"/><rect x="350.6" y="466.7" width="6" height="6" fill="#0000FF"/><rect x="345.9" y="476.0" width="6" height="6" fill="#0000FF"/><rect x="340.9" y="483.4" width="6" height="6" fill="#0000FF"/><rect x="336.6" y="495.9" width="6" height="6" fill="#0000FF"/><rect x="332.0" y="522.7" width="6" height="6" fill="#0000FF"/><rect x="327.3" y="534.3" width="6" height="6" fill="#0000FF"/><rect x="322.7" y="544.7" width="6" height="6" fill="#0000FF"/><rect x="320.4" y="548.1" width="6" height="6" fill="#0000FF"/><rect x="318.1" y="560.8" width="6" height="6" fill="#0000FF"/><rect x="315.8" y="567.0" width="6" height="6" fill="#0000FF"/><rect x="313.5" y="571.2" width="6" height="6" fill="#0000FF"/><rect x="311.3" y="576.5" width="6" height="6" fill="#0000FF"/><rect x="309.0" y="581.7" width="6" height="6" fill="#0000FF"/><rect x="306.7" y="592.8" width="6" height="6" fill="#0000FF"/><rect x="304.5" y="603.4" width="6" height="6" fill="#0000FF"/><rect x="302.3" y="608.2" width="6" height="6" fill="#0000FF"/><rect x="300.0" y="611.2" width="6" height="6" fill="#0000FF"/><rect x="297.5" y="615.4" width="6" height="6" fill="#0000FF"/><rect x="293.3" y="629.0" width="6" height="6" fill="#0000FF"/><rect x="289.2" y="637.6" width="6" height="6" fill="#0000FF"/><polygon points="376.5,408.9 380.4,401.7 372.6,401.7" fill="#808080"/><polygon points="371.5,411.1 375.4,403.9 367.6,403.9" fill="#808080"/><polygon points="366.9,413.5 370.8,406.3 363.0,406.3" fill="#808080"/><polygon points="357.9,427.1 361.8,419.9 354.0,419.9" fill="#808080"/><polygon points="353.3,436.6 357.2,429.4 349.4,429.4" fill="#808080"/><polygon points="348.7,457.5 352.6,450.3 344.8,450.3" fill="#808080"/><polygon points="344.0,462.5 347.9,455.3 340.1,455.3" fill="#808080"/><polygon points="339.6,464.6 343.5,457.4 335.7,457.4" fill="#808080"/><polygon points="334.8,474.5 338.7,467.3 330.9,467.3" fill="#808080"/><polygon points="330.5,487.9 334.4,480.7 326.6,480.7" fill="#808080"/><polygon points="325.8,500.8 329.7,493.6 321.9,493.6" fill="#808080"/><polygon points="321.2,508.8 325.1,501.6 317.3,501.6" fill="#808080"/><polygon points="316.5,537.9 320.4,530.7 312.6,530.7" fill="#808080"/><polygon points="311.9,562.1 315.8,554.9 308.0,554.9" fill="#808080"/><polygon points="307.3,581.9 311.2,574.7 303.4,574.7" fill="#808080"/><polygon points="303.0,591.7 306.9,584.5 299.1,584.5" fill="#808080"/><polygon points="298.4,610.4 302.3,603.2 294.5,603.2" fill="#808080"/><polygon points="293.9,632.7 297.8,625.5 290.0,625.5" fill="#808080"/><polygon points="371.3,430.2 375.2,437.4 367.4,437.4" fill="#FFFF00"/><polygon points="366.9,429.8 370.8,437.0 363.0,437.0" fill="#FFFF00"/><polygon points="362.4,438.2 366.3,445.4 358.5,445.4" fill="#FFFF00"/><polygon points="358.0,450.3 361.9,457.5 354.1,457.5" fill="#FFFF00"/><polygon points="353.2,459.4 357.1,466.6 349.3,466.6" fill="#FFFF00"/><polygon points="348.7,457.4 352.6,464.6 344.8,464.6" fill="#FFFF00"/><polygon points="344.0,468.7 347.9,475.9 340.1,475.9" fill="#FFFF00"/><polygon points="339.6,466.6 343.5,473.8 335.7,473.8" fill="#FFFF00"/><polygon points="335.2,484.0 339.1,491.2 331.3,491.2" fill="#FFFF00"/><polygon points="330.5,493.3 334.4,500.5 326.6,500.5" fill="#FFFF00"/><polygon points="325.7,510.2 329.6,517.4 321.8,517.4" fill="#FFFF00"/><polygon points="321.1,524.9 325.0,532.1 317.2,532.1" fill="#FFFF00"/><polygon points="317.0,551.4 320.9,558.6 313.1,558.6" fill="#FFFF00"/><polygon points="312.4,558.6 316.3,565.8 308.5,565.8" fill="#FFFF00"/><polygon points="307.3,567.1 311.2,574.3 303.4,574.3" fill="#FFFF00"/><polygon points="303.0,580.1 306.9,587.3 299.1,587.3" fill="#FFFF00"/><polygon points="298.4,608.8 302.3,616.0 294.5,616.0" fill="#FFFF00"/><polygon points="296.1,631.5 300.0,638.7 292.2,638.7" fill="#FFFF00"/><polygon points="293.9,639.9 297.8,647.1 290.0,647.1" fill="#FFFF00"/><polygon points="414.6,437.7 422.4,433.9 422.4,441.5" fill="#800080"/><polygon points="410.3,440.7 418.1,436.9 418.1,444.5" fill="#800080"/><polygon points="405.9,444.2 413.7,440.4 413.7,448.0" fill="#800080"/><polygon points="401.5,443.3 409.3,439.5 409.3,447.1" fill="#800080"/><polygon points="396.2,447.3 404.0,443.5 404.0,451.1" fill="#800080"/><polygon points="391.9,455.2 399.7,451.4 399.7,459.0" fill="#800080"/><polygon points="387.0,462.5 394.8,458.7 394.8,466.3" fill="#800080"/><polygon points="377.9,470.9 385.7,467.1 385.7,474.7" fill="#800080"/><polygon points="373.0,476.7 380.8,472.9 380.8,480.5" fill="#800080"/><polygon points="368.1,484.6 375.9,480.8 375.9,488.4" fill="#800080"/><polygon points="363.6,497.5 371.4,493.7 371.4,501.3" fill="#800080"/><polygon points="358.7,511.2 366.5,507.4 366.5,515.0" fill="#800080"/><polygon points="354.1,521.1 361.9,517.3 361.9,524.9" fill="#800080"/><polygon points="349.5,543.5 357.3,539.7 357.3,547.3" fill="#800080"/><polygon points="344.9,556.9 352.7,553.1 352.7,560.7" fill="#800080"/><polygon points="340.5,580.0 348.3,576.2 348.3,583.8" fill="#800080"/><polygon points="336.3,595.4 344.1,591.6 344.1,599.2" fill="#800080"/><polygon points="331.7,606.6 339.5,602.8 339.5,610.4" fill="#800080"/><polygon points="327.1,622.0 334.9,618.2 334.9,625.8" fill="#800080"/><polygon points="435.7,431.7 439.9,435.9 435.7,440.1 431.5,435.9" fill="#000000"/><polygon points="426.4,433.0 430.6,437.2 426.4,441.4 422.2,437.2" fill="#000000"/><polygon points="417.3,440.0 421.5,444.2 417.3,448.4 413.1,444.2" fill="#000000"/><polygon points="408.4,452.8 412.6,457.0 408.4,461.2 404.2,457.0" fill="#000000"/><polygon points="399.3,465.4 403.5,469.6 399.3,473.8 395.1,469.6" fill="#000000"/><polygon points="394.9,466.2 399.1,470.4 394.9,474.6 390.7,470.4" fill="#000000"/><polygon points="390.0,467.4 394.2,471.6 390.0,475.8 385.8,471.6" fill="#000000"/><polygon points="385.2,476.2 389.4,480.4 385.2,484.6 381.0,480.4" fill="#000000"/><polygon points="376.4,482.5 380.6,486.7 376.4,490.9 372.2,486.7" fill="#000000"/><polygon points="372.0,486.5 376.2,490.7 372.0,494.9 367.8,490.7" fill="#000000"/><polygon points="367.2,496.7 371.4,500.9 367.2,505.1 363.0,500.9" fill="#000000"/><polygon points="362.6,516.5 366.8,520.7 362.6,524.9 358.4,520.7" fill="#000000"/><polygon points="358.0,542.8 362.2,547.0 358.0,551.2 353.8,547.0" fill="#000000"/><polygon points="353.4,569.3 357.6,573.5 353.4,577.7 349.2,573.5" fill="#000000"/><polygon points="348.5,603.9 352.7,608.1 348.5,612.3 344.3,608.1" fill="#000000"/><rect x="666.2" y="432.9" width="5.6" height="5.6" fill="none" stroke="#F08080" stroke-width="1"/><rect x="643.3" y="435.8" width="5.6" height="5.6" fill="none" stroke="#F08080" stroke-width="1"/><rect x="620.3" y="437.0" width="5.6" height="5.6" fill="none" stroke="#F08080" stroke-width="1"/><rect x="597.5" y="436.7" width="5.6" height="5.6" fill="none" stroke="#F08080" stroke-width="1"/><rect x="574.5" y="434.9" width="5.6" height="5.6" fill="none" stroke="#F08080" stroke-width="1"/><rect x="552.0" y="434.6" width="5.6" height="5.6" fill="none" stroke="#F08080" stroke-width="1"/><rect x="529.0" y="436.1" width="5.6" height="5.6" fill="none" stroke="#F08080" stroke-width="1"/><rect x="506.2" y="438.5" width="5.6" height="5.6" fill="none" stroke="#F08080" stroke-width="1"/><rect x="483.2" y="437.8" width="5.6" height="5.6" fill="none" stroke="#F08080" stroke-width="1"/><rect x="460.1" y="435.2" width="5.6" height="5.6" fill="none" stroke="#F08080" stroke-width="1"/><rect x="437.1" y="433.5" width="5.6" height="5.6" fill="none" stroke="#F08080" stroke-width="1"/><rect x="414.5" y="446.1" width="5.6" height="5.6" fill="none" stroke="#F08080" stroke-width="1"/><rect x="391.8" y="458.1" width="5.6" height="5.6" fill="none" stroke="#F08080" stroke-width="1"/><rect x="369.2" y="487.9" width="5.6" height="5.6" fill="none" stroke="#F08080" stroke-width="1"/><rect x="346.0" y="562.2" width="5.6" height="5.6" fill="none" stroke="#F08080" stroke-width="1"/>
<rect x="406.3" y="505.5" width="223.3" height="93.4" fill="#fff" stroke="#000" stroke-width="1.5"/><circle cx="421.2" cy="519.9" r="7.8" fill="#FF0000"/><rect x="499.2" y="512.5" width="10.5" height="10.5" fill="#0000FF"/><polygon points="587.4,513.4 594.1,527.0 580.7,527.0" fill="#FFFF00"/><polygon points="427.7,549.5 414.2,542.8 414.2,556.2" fill="#00FF00"/><polygon points="504.3,555.9 511.1,543.1 497.5,543.1" fill="#808080"/><polygon points="581.0,549.5 594.1,543.1 594.1,555.9" fill="#800080"/><polygon points="421.1,575.4 428.8,583.1 421.1,590.8 413.4,583.1" fill="#000000"/><polygon points="503.9,572.3 506.5,578.4 513.1,578.9 508.1,583.2 509.6,589.7 503.9,586.2 498.3,589.7 499.8,583.2 494.8,578.9 501.4,578.4" fill="#FF8000"/><rect x="582.8" y="576.5" width="9.3" height="9.3" fill="none" stroke="#F08080" stroke-width="1"/><path d="M441.2 515.0V526.8M447.8 515.0V526.8M438.2 517.6L450.8 517.2M438.2 524.4L450.8 524.0" stroke="#000" stroke-width="1.6" fill="none"/><g stroke="#000" stroke-width="0.25"><text x="451.50" y="526.80" font-size="16.5" fill="#000"> </text><path transform="translate(451.50,526.80) scale(0.00806,-0.00806)" d="M515 0L515 1237L197 1010L197 1180L530 1409L696 1409L696 0Z" fill="#000"/></g><path d="M524.3 515.0V526.8M530.9 515.0V526.8M521.3 517.6L533.9 517.2M521.3 524.4L533.9 524.0" stroke="#000" stroke-width="1.6" fill="none"/><g stroke="#000" stroke-width="0.25"><text x="534.60" y="526.80" font-size="16.5" fill="#000">2</text></g><path d="M607.3 515.0V526.8M613.9 515.0V526.8M604.3 517.6L616.9 517.2M604.3 524.4L616.9 524.0" stroke="#000" stroke-width="1.6" fill="none"/><g stroke="#000" stroke-width="0.25"><text x="617.60" y="526.80" font-size="16.5" fill="#000">3</text></g><path d="M441.2 544.2V556.0M447.8 544.2V556.0M438.2 546.8L450.8 546.4M438.2 553.6L450.8 553.2" stroke="#000" stroke-width="1.6" fill="none"/><g stroke="#000" stroke-width="0.25"><text x="451.50" y="556.00" font-size="16.5" fill="#000">4</text></g><path d="M524.3 544.2V556.0M530.9 544.2V556.0M521.3 546.8L533.9 546.4M521.3 553.6L533.9 553.2" stroke="#000" stroke-width="1.6" fill="none"/><g stroke="#000" stroke-width="0.25"><text x="534.60" y="556.00" font-size="16.5" fill="#000">5</text></g><path d="M607.3 544.2V556.0M613.9 544.2V556.0M604.3 546.8L616.9 546.4M604.3 553.6L616.9 553.2" stroke="#000" stroke-width="1.6" fill="none"/><g stroke="#000" stroke-width="0.25"><text x="617.60" y="556.00" font-size="16.5" fill="#000">6</text></g><path d="M441.2 577.9V589.7M447.8 577.9V589.7M438.2 580.5L450.8 580.1M438.2 587.3L450.8 586.9" stroke="#000" stroke-width="1.6" fill="none"/><g stroke="#000" stroke-width="0.25"><text x="451.50" y="589.70" font-size="16.5" fill="#000">7</text></g><path d="M524.3 577.9V589.7M530.9 577.9V589.7M521.3 580.5L533.9 580.1M521.3 587.3L533.9 586.9" stroke="#000" stroke-width="1.6" fill="none"/><g stroke="#000" stroke-width="0.25"><text x="534.60" y="589.70" font-size="16.5" fill="#000">8</text></g><path d="M607.3 577.9V589.7M613.9 577.9V589.7M604.3 580.5L616.9 580.1M604.3 587.3L616.9 586.9" stroke="#000" stroke-width="1.6" fill="none"/><g stroke="#000" stroke-width="0.25"><text x="617.60" y="589.70" font-size="16.5" fill="#000">6</text></g>
<g stroke="#000" stroke-width="0.3"><text x="-0.9" y="395.7" font-size="29.4" stroke="#fff" stroke-width="0.75">b</text><text x="62.35" y="680.70" font-size="20.4" fill="#000">0</text><text x="45.34" y="593.83" font-size="20.4" fill="#000"> .5</text><path transform="translate(45.34,593.83) scale(0.00996,-0.00996)" d="M515 0L515 1237L197 1010L197 1180L530 1409L696 1409L696 0Z" fill="#000"/><text x="62.35" y="506.97" font-size="20.4" fill="#000">3</text><text x="45.34" y="420.11" font-size="20.4" fill="#000">4.5</text><text x="102.98" y="702.30" font-size="20.4" fill="#000"> 60</text><path transform="translate(102.98,702.30) scale(0.00996,-0.00996)" d="M515 0L515 1237L197 1010L197 1180L530 1409L696 1409L696 0Z" fill="#000"/><text x="285.98" y="702.30" font-size="20.4" fill="#000">200</text><text x="468.98" y="702.30" font-size="20.4" fill="#000">240</text><text x="651.98" y="702.30" font-size="20.4" fill="#000">280</text><text x="379.3" y="733" font-size="20.4" text-anchor="middle">Temperature (K)</text><text transform="translate(33.3,528.3) rotate(-90)" font-size="19.5" text-anchor="middle" textLength="61.1" lengthAdjust="spacing"><tspan font-style="italic">T</tspan><tspan font-size="13.3" dy="4.3">2</tspan><tspan dy="-4.3"> (</tspan><tspan font-style="italic">μ</tspan><tspan>s)</tspan></text></g>
</svg>
</body></html>
